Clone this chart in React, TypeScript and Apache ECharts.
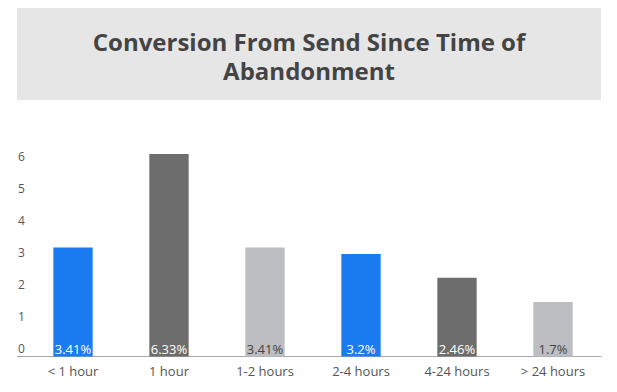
import React, { useEffect, useRef } from "react";
import * as echarts from "echarts";

const categories = ["< 1 hour", "1 hour", "1-2 hours", "2-4 hours", "4-24 hours", "> 24 hours"];
const values = [3.41, 6.33, 3.41, 3.2, 2.46, 1.7];
const barColors = ["#1b7cf2", "#6d6d6d", "#bcbec1", "#1b7cf2", "#6d6d6d", "#bcbec1"];
const labelColors = ["#ffffff", "#ffffff", "#444444", "#ffffff", "#ffffff", "#444444"];
const titleLines = ["Conversion From Send Since Time of", "Abandonment"];

export default function App() {
  const ref = useRef<HTMLDivElement>(null);
  useEffect(() => {
    if (!ref.current) return;
    const chart = echarts.init(ref.current, null, { renderer: "svg" });
    const titleGraphics = titleLines.map((t, i) => ({
      type: "text",
      x: 309,
      y: 41.5 + i * 29,
      style: {
        text: t,
        align: "center",
        verticalAlign: "middle",
        fontFamily: "Open Sans",
        fontWeight: "bold",
        fontSize: 24,
        fill: "#444444",
      },
      silent: true,
    }));
    chart.setOption({
      animation: false,
      backgroundColor: "#ffffff",
      graphic: [
        {
          type: "rect",
          z: -10,
          shape: { x: 17, y: 8, width: 584, height: 92 },
          style: { fill: "#e6e6e6" },
          silent: true,
        },
        ...titleGraphics,
        {
          type: "line",
          shape: { x1: 17, y1: 356.5, x2: 26, y2: 356.5 },
          style: { stroke: "#a8a8a8", lineWidth: 1 },
          silent: true,
        },
      ],
      grid: { left: 25, right: 16, top: 132.5, bottom: 35.5, containLabel: false },
      xAxis: {
        type: "category",
        data: categories,
        axisLine: { show: true, lineStyle: { color: "#a8a8a8" } },
        axisTick: { show: false },
        axisLabel: {
          color: "#555555",
          fontFamily: "Open Sans",
          fontSize: 13,
          margin: 8,
        },
      },
      yAxis: {
        type: "value",
        min: 0,
        max: 7,
        interval: 1,
        splitLine: { show: false },
        axisLine: { show: false },
        axisTick: { show: false },
        axisLabel: {
          showMaxLabel: false,
          align: "left",
          verticalAlign: "bottom",
          padding: [0, 0, 2, 0],
          margin: 7,
          color: "#555555",
          fontFamily: "Open Sans",
          fontSize: 12,
        },
      },
      series: [
        {
          type: "bar",
          barWidth: "41%",
          data: values.map((v, i) => ({
            value: v,
            itemStyle: { color: barColors[i] },
            label: { color: labelColors[i] },
          })),
          label: {
            show: true,
            position: "insideBottom",
            distance: 1,
            fontFamily: "Open Sans",
            fontSize: 13,
            formatter: (p: any) => p.value + "%",
          },
        },
      ],
    });
    return () => chart.dispose();
  }, []);
  return (
    <div
      ref={ref}
      style={{ position: "fixed", left: 0, top: 0, width: 617, height: 392 }}
    />
  );
}
